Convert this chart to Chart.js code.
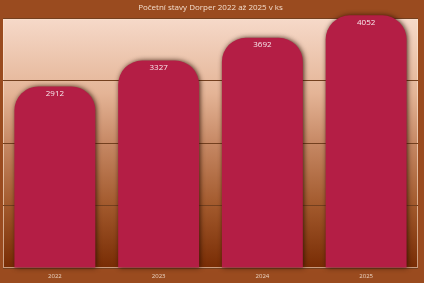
<!DOCTYPE html>
<html>
<head>
<meta charset="utf-8">
<script src="https://cdn.jsdelivr.net/npm/chart.js@4"></script>
<style>
    html, body { margin: 0; padding: 0; background: #9a4b1f; }
    #wrap { width: 424px; height: 283px; }
</style>
</head>
<body>
<div id="wrap"><canvas id="chart" width="424" height="283"></canvas></div>
<script>
// Početní stavy Dorper
const roky = ['2022', '2023', '2024', '2025'];
const pocty = [2912, 3327, 3692, 4052];

// pozadí plochy grafu - přechod
const pozadiPlochy = {
    id: 'pozadiPlochy',
    beforeDraw(chart) {
        const { ctx, chartArea: a } = chart;
        const g = ctx.createLinearGradient(0, a.top, 0, a.bottom);
        g.addColorStop(0, '#f6d9c9');
        g.addColorStop(0.3, '#e4b496');
        g.addColorStop(0.5, '#c68864');
        g.addColorStop(0.75, '#a2592c');
        g.addColorStop(1, '#782c04');
        ctx.save();
        ctx.fillStyle = g;
        ctx.fillRect(a.left, a.top, a.right - a.left, a.bottom - a.top);
        ctx.strokeStyle = 'rgba(255,230,210,0.6)';
        ctx.lineWidth = 1;
        ctx.strokeRect(a.left + 0.5, a.top + 0.5, a.right - a.left - 1, a.bottom - a.top - 1);
        ctx.restore();
    }
};

// stín pod sloupci + popisky hodnot
const stinSloupcu = {
    id: 'stinSloupcu',
    beforeDatasetsDraw(chart) {
        const ctx = chart.ctx;
        ctx.save();
        ctx.shadowColor = 'rgba(40,15,0,0.85)';
        ctx.shadowBlur = 5;
        ctx.shadowOffsetX = 1;
        ctx.shadowOffsetY = 0;
    },
    afterDatasetsDraw(chart) {
        const ctx = chart.ctx;
        ctx.restore();
        const meta = chart.getDatasetMeta(0);
        ctx.save();
        ctx.fillStyle = '#f8eaee';
        ctx.font = '8px "Open Sans", sans-serif';
        ctx.textAlign = 'center';
        ctx.textBaseline = 'top';
        meta.data.forEach((bar, i) => {
            ctx.fillText(String(pocty[i]), bar.x, bar.y + 3);
        });
        ctx.restore();
    }
};

new Chart(document.getElementById('chart').getContext('2d'), {
    type: 'bar',
    data: {
        labels: roky,
        datasets: [{
            data: pocty,
            backgroundColor: '#b41e45',
            borderWidth: 0,
            borderRadius: { topLeft: 24, topRight: 24, bottomLeft: 0, bottomRight: 0 },
            borderSkipped: 'bottom',
            categoryPercentage: 1,
            barPercentage: 0.78,
            clip: false
        }]
    },
    options: {
        responsive: false,
        animation: false,
        layout: { padding: { left: 3, right: 6, top: 0, bottom: 0 } },
        plugins: {
            legend: { display: false },
            tooltip: { enabled: false },
            title: {
                display: true,
                text: 'Početní stavy Dorper 2022 až 2025 v ks',
                color: '#f3dccb',
                font: { family: '"Open Sans", sans-serif', size: 8, weight: 'normal' },
                padding: { top: 3, bottom: 6 },
                fullSize: true
            }
        },
        scales: {
            x: {
                grid: { display: false, drawTicks: false },
                border: { display: false },
                ticks: {
                    color: '#ead2c0',
                    font: { family: '"Open Sans", sans-serif', size: 6 },
                    padding: 5
                },
                afterFit(scale) { scale.height = 15; }
            },
            y: {
                min: 0,
                max: 4000,
                ticks: { display: false, stepSize: 1000 },
                grid: { color: '#74401f', lineWidth: 1, drawTicks: false },
                border: { display: false },
                afterFit(scale) { scale.width = 0; }
            }
        }
    },
    plugins: [pozadiPlochy, stinSloupcu]
});
</script>
</body>
</html>
